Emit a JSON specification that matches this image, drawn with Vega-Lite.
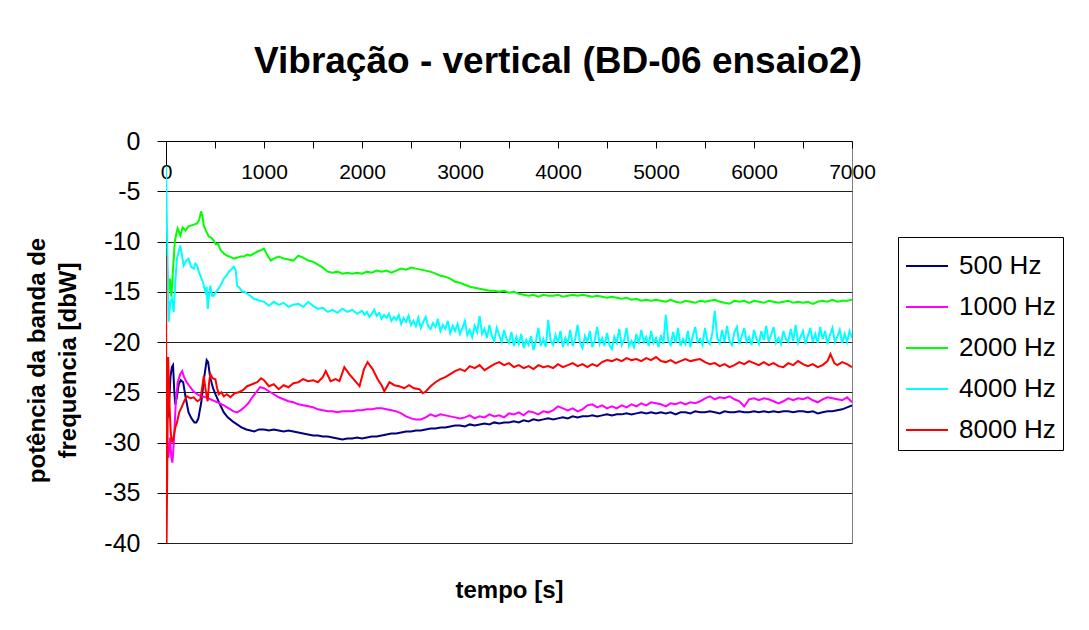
{
  "$schema": "https://vega.github.io/schema/vega-lite/v6.json",
  "width": 686,
  "height": 402,
  "autosize": {"type": "none"},
  "padding": {"left": 166, "top": 141, "right": 237, "bottom": 87},
  "background": "white",
  "title": {"text": "Vibração - vertical (BD-06 ensaio2)", "font": "Liberation Sans", "fontSize": 37, "fontWeight": "bold", "color": "black", "anchor": "middle", "frame": "group", "dx": 49, "offset": 19, "baseline": "alphabetic"},
  "config": {"view": {"stroke": "#808080", "strokeWidth": 1}},
  "datasets": {
    "s500": [{"t":0,"v":-25.5},{"t":15,"v":-27.6},{"t":30,"v":-26.5},{"t":45,"v":-23.5},{"t":60,"v":-22.5},{"t":72,"v":-22.3},{"t":85,"v":-25},{"t":95,"v":-26.2},{"t":110,"v":-25.5},{"t":130,"v":-24.2},{"t":150,"v":-23.8},{"t":175,"v":-24},{"t":200,"v":-25.5},{"t":230,"v":-27},{"t":260,"v":-27.6},{"t":290,"v":-28},{"t":310,"v":-28},{"t":330,"v":-27.6},{"t":360,"v":-26},{"t":390,"v":-23.5},{"t":415,"v":-21.8},{"t":430,"v":-22},{"t":450,"v":-23.5},{"t":480,"v":-24.6},{"t":510,"v":-25.3},{"t":550,"v":-26.2},{"t":590,"v":-27},{"t":630,"v":-27.5},{"t":680,"v":-27.9},{"t":725,"v":-28.2},{"t":770,"v":-28.5},{"t":820,"v":-28.7},{"t":862,"v":-28.8},{"t":900,"v":-28.9},{"t":950,"v":-28.7},{"t":1000,"v":-28.7},{"t":1050,"v":-28.8},{"t":1100,"v":-28.7},{"t":1150,"v":-28.8},{"t":1200,"v":-28.9},{"t":1250,"v":-28.8},{"t":1300,"v":-28.9},{"t":1350,"v":-29.0},{"t":1400,"v":-29.1},{"t":1450,"v":-29.2},{"t":1500,"v":-29.3},{"t":1550,"v":-29.3},{"t":1600,"v":-29.4},{"t":1650,"v":-29.4},{"t":1700,"v":-29.5},{"t":1750,"v":-29.6},{"t":1800,"v":-29.7},{"t":1850,"v":-29.6},{"t":1900,"v":-29.6},{"t":1950,"v":-29.5},{"t":2000,"v":-29.6},{"t":2050,"v":-29.5},{"t":2100,"v":-29.4},{"t":2150,"v":-29.4},{"t":2200,"v":-29.3},{"t":2250,"v":-29.2},{"t":2300,"v":-29.1},{"t":2350,"v":-29.1},{"t":2400,"v":-29.0},{"t":2450,"v":-28.9},{"t":2500,"v":-28.9},{"t":2550,"v":-28.8},{"t":2600,"v":-28.8},{"t":2650,"v":-28.7},{"t":2700,"v":-28.6},{"t":2750,"v":-28.6},{"t":2800,"v":-28.5},{"t":2850,"v":-28.5},{"t":2900,"v":-28.4},{"t":2950,"v":-28.3},{"t":3000,"v":-28.3},{"t":3050,"v":-28.4},{"t":3100,"v":-28.2},{"t":3150,"v":-28.3},{"t":3200,"v":-28.2},{"t":3250,"v":-28.1},{"t":3300,"v":-28.2},{"t":3350,"v":-28.0},{"t":3400,"v":-28.1},{"t":3450,"v":-28.0},{"t":3500,"v":-28.0},{"t":3550,"v":-27.9},{"t":3600,"v":-28.0},{"t":3650,"v":-27.8},{"t":3700,"v":-27.9},{"t":3750,"v":-27.7},{"t":3800,"v":-27.8},{"t":3850,"v":-27.7},{"t":3900,"v":-27.6},{"t":3950,"v":-27.7},{"t":4000,"v":-27.6},{"t":4050,"v":-27.5},{"t":4100,"v":-27.6},{"t":4150,"v":-27.4},{"t":4200,"v":-27.5},{"t":4250,"v":-27.4},{"t":4300,"v":-27.4},{"t":4350,"v":-27.3},{"t":4400,"v":-27.4},{"t":4450,"v":-27.3},{"t":4500,"v":-27.2},{"t":4550,"v":-27.3},{"t":4600,"v":-27.2},{"t":4650,"v":-27.2},{"t":4700,"v":-27.1},{"t":4750,"v":-27.2},{"t":4800,"v":-27.1},{"t":4850,"v":-27.0},{"t":4900,"v":-27.1},{"t":4950,"v":-27.0},{"t":5000,"v":-27.1},{"t":5050,"v":-27.0},{"t":5100,"v":-27.1},{"t":5150,"v":-27.0},{"t":5200,"v":-27.2},{"t":5250,"v":-27.0},{"t":5300,"v":-27.0},{"t":5350,"v":-27.1},{"t":5400,"v":-26.9},{"t":5450,"v":-27.0},{"t":5500,"v":-27.0},{"t":5550,"v":-26.9},{"t":5600,"v":-27.0},{"t":5650,"v":-27.1},{"t":5700,"v":-26.9},{"t":5750,"v":-27.0},{"t":5800,"v":-27.0},{"t":5850,"v":-26.9},{"t":5900,"v":-27.0},{"t":5950,"v":-27.0},{"t":6000,"v":-26.9},{"t":6050,"v":-27.0},{"t":6100,"v":-26.9},{"t":6150,"v":-27.0},{"t":6200,"v":-26.9},{"t":6250,"v":-27.0},{"t":6300,"v":-26.9},{"t":6350,"v":-26.9},{"t":6400,"v":-27.0},{"t":6450,"v":-26.9},{"t":6500,"v":-26.9},{"t":6550,"v":-27.0},{"t":6600,"v":-26.9},{"t":6650,"v":-27.1},{"t":6700,"v":-27.0},{"t":6750,"v":-26.9},{"t":6800,"v":-26.9},{"t":6850,"v":-26.8},{"t":6900,"v":-26.7},{"t":6950,"v":-26.5},{"t":7000,"v":-26.3}],
    "s1000": [{"t":0,"v":-27},{"t":10,"v":-30},{"t":25,"v":-31.5},{"t":40,"v":-29.5},{"t":55,"v":-31.5},{"t":65,"v":-32},{"t":80,"v":-30},{"t":100,"v":-26},{"t":120,"v":-24},{"t":145,"v":-23.2},{"t":165,"v":-22.9},{"t":185,"v":-23.5},{"t":210,"v":-24},{"t":248,"v":-24.5},{"t":280,"v":-24.9},{"t":317,"v":-25.2},{"t":360,"v":-25.4},{"t":410,"v":-25.5},{"t":453,"v":-25.7},{"t":500,"v":-25.9},{"t":550,"v":-26.1},{"t":590,"v":-26.3},{"t":640,"v":-26.6},{"t":690,"v":-26.9},{"t":726,"v":-27},{"t":760,"v":-26.8},{"t":800,"v":-26.5},{"t":840,"v":-26.1},{"t":880,"v":-25.5},{"t":920,"v":-25},{"t":960,"v":-24.5},{"t":1000,"v":-24.6},{"t":1050,"v":-24.9},{"t":1100,"v":-25.2},{"t":1150,"v":-25.5},{"t":1200,"v":-25.7},{"t":1250,"v":-25.9},{"t":1300,"v":-26.0},{"t":1350,"v":-26.2},{"t":1400,"v":-26.3},{"t":1450,"v":-26.4},{"t":1500,"v":-26.5},{"t":1550,"v":-26.7},{"t":1600,"v":-26.8},{"t":1650,"v":-26.9},{"t":1700,"v":-26.9},{"t":1750,"v":-27.0},{"t":1800,"v":-26.9},{"t":1850,"v":-26.9},{"t":1900,"v":-26.9},{"t":1950,"v":-26.8},{"t":2000,"v":-26.8},{"t":2050,"v":-26.7},{"t":2100,"v":-26.7},{"t":2150,"v":-26.6},{"t":2200,"v":-26.6},{"t":2250,"v":-26.7},{"t":2300,"v":-26.8},{"t":2350,"v":-26.9},{"t":2400,"v":-27.1},{"t":2450,"v":-27.4},{"t":2500,"v":-27.6},{"t":2550,"v":-27.7},{"t":2600,"v":-27.7},{"t":2650,"v":-27.5},{"t":2700,"v":-27.2},{"t":2750,"v":-27.4},{"t":2800,"v":-27.2},{"t":2850,"v":-27.3},{"t":2900,"v":-27.4},{"t":2950,"v":-27.5},{"t":3000,"v":-27.6},{"t":3050,"v":-27.5},{"t":3100,"v":-27.3},{"t":3150,"v":-27.6},{"t":3200,"v":-27.4},{"t":3250,"v":-27.5},{"t":3300,"v":-27.2},{"t":3350,"v":-27.4},{"t":3400,"v":-27.3},{"t":3450,"v":-27.5},{"t":3500,"v":-27.1},{"t":3550,"v":-27.2},{"t":3600,"v":-27.0},{"t":3650,"v":-27.3},{"t":3700,"v":-26.9},{"t":3750,"v":-27.0},{"t":3800,"v":-27.2},{"t":3850,"v":-26.9},{"t":3900,"v":-27.0},{"t":3950,"v":-26.8},{"t":4000,"v":-26.4},{"t":4050,"v":-26.6},{"t":4100,"v":-26.8},{"t":4150,"v":-26.6},{"t":4200,"v":-26.9},{"t":4250,"v":-26.7},{"t":4300,"v":-26.3},{"t":4350,"v":-26.2},{"t":4400,"v":-26.5},{"t":4450,"v":-26.3},{"t":4500,"v":-26.6},{"t":4550,"v":-26.4},{"t":4600,"v":-26.6},{"t":4650,"v":-26.3},{"t":4700,"v":-26.5},{"t":4750,"v":-26.2},{"t":4800,"v":-26.4},{"t":4850,"v":-26.1},{"t":4900,"v":-26.3},{"t":4950,"v":-26.0},{"t":5000,"v":-26.1},{"t":5050,"v":-26.2},{"t":5100,"v":-26.4},{"t":5150,"v":-26.1},{"t":5200,"v":-26.2},{"t":5250,"v":-26.0},{"t":5300,"v":-26.2},{"t":5350,"v":-26.0},{"t":5400,"v":-26.1},{"t":5450,"v":-25.9},{"t":5500,"v":-25.6},{"t":5550,"v":-25.4},{"t":5600,"v":-25.7},{"t":5650,"v":-25.5},{"t":5700,"v":-25.6},{"t":5750,"v":-25.4},{"t":5800,"v":-25.7},{"t":5850,"v":-25.9},{"t":5900,"v":-26.4},{"t":5950,"v":-25.7},{"t":6000,"v":-25.6},{"t":6050,"v":-25.8},{"t":6100,"v":-25.6},{"t":6150,"v":-25.7},{"t":6200,"v":-25.9},{"t":6250,"v":-26.1},{"t":6300,"v":-25.9},{"t":6350,"v":-25.6},{"t":6400,"v":-25.8},{"t":6450,"v":-25.6},{"t":6500,"v":-25.7},{"t":6550,"v":-25.5},{"t":6600,"v":-25.8},{"t":6650,"v":-26.0},{"t":6700,"v":-25.7},{"t":6750,"v":-25.5},{"t":6800,"v":-25.6},{"t":6850,"v":-25.7},{"t":6900,"v":-25.8},{"t":6950,"v":-25.5},{"t":7000,"v":-26.0}],
    "s2000": [{"t":0,"v":-12},{"t":10,"v":-12.5},{"t":25,"v":-15},{"t":40,"v":-13.7},{"t":55,"v":-15.5},{"t":70,"v":-13},{"t":90,"v":-10},{"t":110,"v":-9},{"t":119,"v":-8.7},{"t":146,"v":-9.4},{"t":170,"v":-8.6},{"t":200,"v":-8.9},{"t":230,"v":-8.5},{"t":260,"v":-8.4},{"t":290,"v":-8.3},{"t":317,"v":-8.2},{"t":340,"v":-7.8},{"t":358,"v":-7.0},{"t":372,"v":-7.5},{"t":385,"v":-8.4},{"t":410,"v":-9},{"t":436,"v":-9.5},{"t":460,"v":-9.6},{"t":487,"v":-9.9},{"t":510,"v":-10.3},{"t":530,"v":-10.2},{"t":560,"v":-10.9},{"t":590,"v":-11.2},{"t":620,"v":-11.4},{"t":650,"v":-11.5},{"t":692,"v":-11.7},{"t":730,"v":-11.6},{"t":760,"v":-11.5},{"t":794,"v":-11.5},{"t":830,"v":-11.3},{"t":860,"v":-11.4},{"t":896,"v":-11.2},{"t":930,"v":-11.0},{"t":960,"v":-10.9},{"t":1000,"v":-10.7},{"t":1030,"v":-11.3},{"t":1070,"v":-11.9},{"t":1100,"v":-11.7},{"t":1150,"v":-11.5},{"t":1200,"v":-11.7},{"t":1250,"v":-11.8},{"t":1300,"v":-11.9},{"t":1350,"v":-11.4},{"t":1400,"v":-11.6},{"t":1450,"v":-11.9},{"t":1500,"v":-12.0},{"t":1550,"v":-12.3},{"t":1600,"v":-12.6},{"t":1650,"v":-13.0},{"t":1700,"v":-13.1},{"t":1750,"v":-13.0},{"t":1800,"v":-13.2},{"t":1850,"v":-13.1},{"t":1900,"v":-13.2},{"t":1950,"v":-13.1},{"t":2000,"v":-13.2},{"t":2050,"v":-13.0},{"t":2100,"v":-13.1},{"t":2150,"v":-12.9},{"t":2200,"v":-13.0},{"t":2250,"v":-12.9},{"t":2300,"v":-13.1},{"t":2350,"v":-12.9},{"t":2400,"v":-12.7},{"t":2450,"v":-12.8},{"t":2500,"v":-12.6},{"t":2550,"v":-12.7},{"t":2600,"v":-12.8},{"t":2650,"v":-12.9},{"t":2700,"v":-13.0},{"t":2750,"v":-13.2},{"t":2800,"v":-13.4},{"t":2850,"v":-13.5},{"t":2900,"v":-13.7},{"t":2950,"v":-14.0},{"t":3000,"v":-14.1},{"t":3050,"v":-14.3},{"t":3100,"v":-14.5},{"t":3150,"v":-14.6},{"t":3200,"v":-14.7},{"t":3250,"v":-14.8},{"t":3300,"v":-14.9},{"t":3350,"v":-14.9},{"t":3400,"v":-15.0},{"t":3450,"v":-14.9},{"t":3500,"v":-15.1},{"t":3550,"v":-15.0},{"t":3600,"v":-15.2},{"t":3650,"v":-15.3},{"t":3700,"v":-15.4},{"t":3750,"v":-15.3},{"t":3800,"v":-15.5},{"t":3850,"v":-15.3},{"t":3900,"v":-15.4},{"t":3950,"v":-15.4},{"t":4000,"v":-15.3},{"t":4050,"v":-15.5},{"t":4100,"v":-15.4},{"t":4150,"v":-15.3},{"t":4200,"v":-15.4},{"t":4250,"v":-15.3},{"t":4300,"v":-15.4},{"t":4350,"v":-15.5},{"t":4400,"v":-15.4},{"t":4450,"v":-15.5},{"t":4500,"v":-15.6},{"t":4550,"v":-15.5},{"t":4600,"v":-15.6},{"t":4650,"v":-15.7},{"t":4700,"v":-15.6},{"t":4750,"v":-15.8},{"t":4800,"v":-15.7},{"t":4850,"v":-15.9},{"t":4900,"v":-15.8},{"t":4950,"v":-15.9},{"t":5000,"v":-15.8},{"t":5050,"v":-15.9},{"t":5100,"v":-16.0},{"t":5150,"v":-15.8},{"t":5200,"v":-16.0},{"t":5250,"v":-16.1},{"t":5300,"v":-15.9},{"t":5350,"v":-16.0},{"t":5400,"v":-16.1},{"t":5450,"v":-15.9},{"t":5500,"v":-16.0},{"t":5550,"v":-15.9},{"t":5600,"v":-15.8},{"t":5650,"v":-16.0},{"t":5700,"v":-16.1},{"t":5750,"v":-16.2},{"t":5800,"v":-15.9},{"t":5850,"v":-16.0},{"t":5900,"v":-15.9},{"t":5950,"v":-16.1},{"t":6000,"v":-15.9},{"t":6050,"v":-16.0},{"t":6100,"v":-16.1},{"t":6150,"v":-15.9},{"t":6200,"v":-16.0},{"t":6250,"v":-16.1},{"t":6300,"v":-16.0},{"t":6350,"v":-15.9},{"t":6400,"v":-16.1},{"t":6450,"v":-16.0},{"t":6500,"v":-16.1},{"t":6550,"v":-16.0},{"t":6600,"v":-16.2},{"t":6650,"v":-16.0},{"t":6700,"v":-15.9},{"t":6750,"v":-16.0},{"t":6800,"v":-15.8},{"t":6850,"v":-16.0},{"t":6900,"v":-15.9},{"t":6950,"v":-15.9},{"t":7000,"v":-15.8}],
    "s4000": [{"t":0,"v":-2.5},{"t":12,"v":-10},{"t":27,"v":-18.0},{"t":45,"v":-16},{"t":61,"v":-15.7},{"t":78,"v":-17.0},{"t":95,"v":-14},{"t":112,"v":-11.7},{"t":130,"v":-11},{"t":146,"v":-10.4},{"t":165,"v":-11.5},{"t":180,"v":-12.4},{"t":205,"v":-11.9},{"t":231,"v":-11.7},{"t":255,"v":-12.5},{"t":283,"v":-12.7},{"t":300,"v":-12.2},{"t":317,"v":-12.4},{"t":335,"v":-13},{"t":351,"v":-13.4},{"t":375,"v":-14},{"t":402,"v":-15.0},{"t":415,"v":-14.5},{"t":426,"v":-16.7},{"t":440,"v":-15.2},{"t":453,"v":-14.4},{"t":470,"v":-15.4},{"t":487,"v":-15.4},{"t":510,"v":-15},{"t":538,"v":-14.7},{"t":565,"v":-14.2},{"t":590,"v":-13.7},{"t":615,"v":-13.4},{"t":641,"v":-13.0},{"t":665,"v":-12.8},{"t":692,"v":-12.5},{"t":710,"v":-12.8},{"t":726,"v":-14.4},{"t":750,"v":-14.6},{"t":777,"v":-15.0},{"t":800,"v":-15.0},{"t":828,"v":-15.2},{"t":860,"v":-15.4},{"t":896,"v":-15.7},{"t":930,"v":-15.8},{"t":960,"v":-15.9},{"t":1000,"v":-16.0},{"t":1050,"v":-16.4},{"t":1100,"v":-16.0},{"t":1150,"v":-16.3},{"t":1200,"v":-16.1},{"t":1250,"v":-16.5},{"t":1300,"v":-16.3},{"t":1350,"v":-16.2},{"t":1400,"v":-16.5},{"t":1450,"v":-16.0},{"t":1500,"v":-16.4},{"t":1550,"v":-16.7},{"t":1600,"v":-16.6},{"t":1650,"v":-17.0},{"t":1700,"v":-16.8},{"t":1750,"v":-17.1},{"t":1800,"v":-16.7},{"t":1850,"v":-17.0},{"t":1900,"v":-16.8},{"t":1950,"v":-17.2},{"t":2000,"v":-16.9},{"t":2025,"v":-17.3},{"t":2050,"v":-17.0},{"t":2075,"v":-17.5},{"t":2100,"v":-17.2},{"t":2125,"v":-16.8},{"t":2150,"v":-17.4},{"t":2175,"v":-17.1},{"t":2200,"v":-17.7},{"t":2225,"v":-17.3},{"t":2250,"v":-17.6},{"t":2275,"v":-17.2},{"t":2300,"v":-17.9},{"t":2325,"v":-17.5},{"t":2350,"v":-17.8},{"t":2375,"v":-17.3},{"t":2400,"v":-18.2},{"t":2425,"v":-17.6},{"t":2450,"v":-18.0},{"t":2475,"v":-17.4},{"t":2500,"v":-18.3},{"t":2525,"v":-17.9},{"t":2550,"v":-18.4},{"t":2575,"v":-17.6},{"t":2600,"v":-18.6},{"t":2625,"v":-18.0},{"t":2650,"v":-17.5},{"t":2675,"v":-18.4},{"t":2700,"v":-18.7},{"t":2725,"v":-18.1},{"t":2750,"v":-18.5},{"t":2775,"v":-17.7},{"t":2800,"v":-18.9},{"t":2825,"v":-18.3},{"t":2850,"v":-18.7},{"t":2875,"v":-17.9},{"t":2900,"v":-19.1},{"t":2925,"v":-18.4},{"t":2950,"v":-18.9},{"t":2975,"v":-18.2},{"t":3000,"v":-19.2},{"t":3025,"v":-18.6},{"t":3050,"v":-17.9},{"t":3075,"v":-19.3},{"t":3100,"v":-18.8},{"t":3125,"v":-19.5},{"t":3150,"v":-18.4},{"t":3175,"v":-19.0},{"t":3200,"v":-17.4},{"t":3225,"v":-19.2},{"t":3250,"v":-18.7},{"t":3275,"v":-19.6},{"t":3300,"v":-18.3},{"t":3325,"v":-19.4},{"t":3350,"v":-19.9},{"t":3375,"v":-18.6},{"t":3400,"v":-19.3},{"t":3425,"v":-20.0},{"t":3450,"v":-18.8},{"t":3475,"v":-19.7},{"t":3500,"v":-20.1},{"t":3525,"v":-19.0},{"t":3550,"v":-20.4},{"t":3575,"v":-19.5},{"t":3600,"v":-20.2},{"t":3625,"v":-19.2},{"t":3650,"v":-20.6},{"t":3675,"v":-19.8},{"t":3700,"v":-20.3},{"t":3725,"v":-19.4},{"t":3750,"v":-20.8},{"t":3775,"v":-19.9},{"t":3800,"v":-18.6},{"t":3825,"v":-20.4},{"t":3850,"v":-19.7},{"t":3875,"v":-20.5},{"t":3900,"v":-17.8},{"t":3925,"v":-19.9},{"t":3950,"v":-20.3},{"t":3975,"v":-19.3},{"t":4000,"v":-20.1},{"t":4025,"v":-18.9},{"t":4050,"v":-20.5},{"t":4075,"v":-19.6},{"t":4100,"v":-20.2},{"t":4125,"v":-18.8},{"t":4150,"v":-20.4},{"t":4175,"v":-19.7},{"t":4200,"v":-18.3},{"t":4225,"v":-20.1},{"t":4250,"v":-20.6},{"t":4275,"v":-19.4},{"t":4300,"v":-20.0},{"t":4325,"v":-18.9},{"t":4350,"v":-20.5},{"t":4375,"v":-19.8},{"t":4400,"v":-18.5},{"t":4425,"v":-20.2},{"t":4450,"v":-19.6},{"t":4475,"v":-20.4},{"t":4500,"v":-19.1},{"t":4525,"v":-20.3},{"t":4550,"v":-20.7},{"t":4575,"v":-19.5},{"t":4600,"v":-20.1},{"t":4625,"v":-18.7},{"t":4650,"v":-20.3},{"t":4675,"v":-19.8},{"t":4700,"v":-18.6},{"t":4725,"v":-20.4},{"t":4750,"v":-19.9},{"t":4775,"v":-20.5},{"t":4800,"v":-19.2},{"t":4825,"v":-20.2},{"t":4850,"v":-18.8},{"t":4875,"v":-20.0},{"t":4900,"v":-19.5},{"t":4925,"v":-20.4},{"t":4950,"v":-18.9},{"t":4975,"v":-20.1},{"t":5000,"v":-19.6},{"t":5025,"v":-20.5},{"t":5050,"v":-19.3},{"t":5075,"v":-20.2},{"t":5100,"v":-17.3},{"t":5125,"v":-19.9},{"t":5150,"v":-20.3},{"t":5175,"v":-19.0},{"t":5200,"v":-20.1},{"t":5225,"v":-18.6},{"t":5250,"v":-20.4},{"t":5275,"v":-19.7},{"t":5300,"v":-20.2},{"t":5325,"v":-18.9},{"t":5350,"v":-20.5},{"t":5375,"v":-19.4},{"t":5400,"v":-18.5},{"t":5425,"v":-20.0},{"t":5450,"v":-19.7},{"t":5475,"v":-20.3},{"t":5500,"v":-18.6},{"t":5525,"v":-19.9},{"t":5550,"v":-20.2},{"t":5575,"v":-19.1},{"t":5600,"v":-16.9},{"t":5625,"v":-19.6},{"t":5650,"v":-20.1},{"t":5675,"v":-18.8},{"t":5700,"v":-20.0},{"t":5725,"v":-18.4},{"t":5750,"v":-19.9},{"t":5775,"v":-20.3},{"t":5800,"v":-19.0},{"t":5825,"v":-18.5},{"t":5850,"v":-20.2},{"t":5875,"v":-19.4},{"t":5900,"v":-18.6},{"t":5925,"v":-20.0},{"t":5950,"v":-19.5},{"t":5975,"v":-20.3},{"t":6000,"v":-18.8},{"t":6025,"v":-19.7},{"t":6050,"v":-20.2},{"t":6075,"v":-18.9},{"t":6100,"v":-19.8},{"t":6125,"v":-18.4},{"t":6150,"v":-20.0},{"t":6175,"v":-19.3},{"t":6200,"v":-18.5},{"t":6225,"v":-20.1},{"t":6250,"v":-19.6},{"t":6275,"v":-20.2},{"t":6300,"v":-18.9},{"t":6325,"v":-19.7},{"t":6350,"v":-20.0},{"t":6375,"v":-18.7},{"t":6400,"v":-19.9},{"t":6425,"v":-18.3},{"t":6450,"v":-20.1},{"t":6475,"v":-19.5},{"t":6500,"v":-18.9},{"t":6525,"v":-20.2},{"t":6550,"v":-19.4},{"t":6575,"v":-18.6},{"t":6600,"v":-20.0},{"t":6625,"v":-19.2},{"t":6650,"v":-20.1},{"t":6675,"v":-18.5},{"t":6700,"v":-19.7},{"t":6725,"v":-18.9},{"t":6750,"v":-20.2},{"t":6775,"v":-19.3},{"t":6800,"v":-18.6},{"t":6825,"v":-20.0},{"t":6850,"v":-19.5},{"t":6875,"v":-18.8},{"t":6900,"v":-20.1},{"t":6925,"v":-19.2},{"t":6950,"v":-20.0},{"t":6975,"v":-18.9},{"t":7000,"v":-19.6}],
    "s8000": [{"t":0,"v":-11.5},{"t":6,"v":-40},{"t":15,"v":-30},{"t":22,"v":-21.5},{"t":35,"v":-26},{"t":48,"v":-29},{"t":60,"v":-30},{"t":75,"v":-29.6},{"t":95,"v":-28.5},{"t":112,"v":-28},{"t":135,"v":-27},{"t":163,"v":-26.4},{"t":190,"v":-25.8},{"t":215,"v":-25.4},{"t":250,"v":-25.6},{"t":283,"v":-25.5},{"t":320,"v":-25.9},{"t":351,"v":-25.7},{"t":370,"v":-24.5},{"t":385,"v":-23.4},{"t":405,"v":-24.8},{"t":425,"v":-25.9},{"t":440,"v":-24},{"t":453,"v":-23.2},{"t":475,"v":-23.6},{"t":504,"v":-23.7},{"t":520,"v":-24.5},{"t":538,"v":-25.2},{"t":565,"v":-25.0},{"t":590,"v":-25.4},{"t":620,"v":-25.2},{"t":658,"v":-25.5},{"t":700,"v":-25.1},{"t":743,"v":-25.0},{"t":785,"v":-24.8},{"t":828,"v":-24.4},{"t":880,"v":-24.2},{"t":930,"v":-24.0},{"t":970,"v":-23.6},{"t":1000,"v":-23.8},{"t":1050,"v":-24.4},{"t":1100,"v":-24.2},{"t":1150,"v":-24.7},{"t":1200,"v":-24.3},{"t":1250,"v":-24.5},{"t":1300,"v":-24.1},{"t":1350,"v":-24.0},{"t":1400,"v":-23.7},{"t":1450,"v":-23.9},{"t":1500,"v":-23.8},{"t":1550,"v":-24.0},{"t":1600,"v":-23.5},{"t":1630,"v":-22.9},{"t":1680,"v":-23.9},{"t":1730,"v":-23.7},{"t":1770,"v":-23.9},{"t":1820,"v":-22.5},{"t":1870,"v":-23.2},{"t":1940,"v":-24.0},{"t":1975,"v":-24.4},{"t":2020,"v":-22.7},{"t":2057,"v":-22.0},{"t":2108,"v":-22.7},{"t":2160,"v":-23.7},{"t":2200,"v":-24.3},{"t":2228,"v":-24.9},{"t":2280,"v":-24.0},{"t":2330,"v":-24.3},{"t":2380,"v":-24.4},{"t":2430,"v":-24.6},{"t":2480,"v":-24.3},{"t":2530,"v":-24.6},{"t":2586,"v":-24.7},{"t":2620,"v":-25.1},{"t":2654,"v":-24.9},{"t":2700,"v":-24.4},{"t":2750,"v":-24.0},{"t":2800,"v":-23.7},{"t":2850,"v":-23.5},{"t":2900,"v":-23.2},{"t":2950,"v":-22.9},{"t":3000,"v":-22.7},{"t":3050,"v":-22.9},{"t":3100,"v":-22.4},{"t":3150,"v":-22.6},{"t":3200,"v":-22.3},{"t":3250,"v":-22.8},{"t":3300,"v":-22.5},{"t":3350,"v":-22.2},{"t":3400,"v":-22.0},{"t":3450,"v":-22.3},{"t":3500,"v":-22.1},{"t":3550,"v":-22.5},{"t":3600,"v":-22.3},{"t":3650,"v":-22.6},{"t":3700,"v":-22.4},{"t":3750,"v":-22.7},{"t":3800,"v":-22.3},{"t":3850,"v":-22.5},{"t":3900,"v":-22.4},{"t":3950,"v":-22.6},{"t":4000,"v":-22.2},{"t":4050,"v":-22.5},{"t":4100,"v":-22.3},{"t":4150,"v":-22.1},{"t":4200,"v":-22.4},{"t":4250,"v":-22.2},{"t":4300,"v":-22.5},{"t":4350,"v":-22.2},{"t":4400,"v":-22.4},{"t":4450,"v":-22.0},{"t":4500,"v":-21.8},{"t":4550,"v":-21.9},{"t":4600,"v":-21.7},{"t":4650,"v":-21.9},{"t":4700,"v":-21.6},{"t":4750,"v":-21.8},{"t":4800,"v":-21.7},{"t":4850,"v":-21.9},{"t":4900,"v":-21.6},{"t":4950,"v":-21.8},{"t":5000,"v":-21.5},{"t":5050,"v":-21.9},{"t":5100,"v":-22.0},{"t":5150,"v":-21.8},{"t":5200,"v":-22.1},{"t":5250,"v":-21.9},{"t":5300,"v":-21.7},{"t":5350,"v":-21.9},{"t":5400,"v":-21.8},{"t":5450,"v":-21.7},{"t":5500,"v":-22.0},{"t":5550,"v":-22.2},{"t":5600,"v":-22.1},{"t":5650,"v":-22.4},{"t":5700,"v":-22.2},{"t":5750,"v":-22.5},{"t":5800,"v":-22.3},{"t":5850,"v":-22.0},{"t":5900,"v":-22.2},{"t":5950,"v":-21.9},{"t":6000,"v":-22.1},{"t":6050,"v":-22.3},{"t":6100,"v":-22.0},{"t":6150,"v":-22.3},{"t":6200,"v":-22.1},{"t":6250,"v":-22.4},{"t":6300,"v":-22.5},{"t":6350,"v":-22.1},{"t":6400,"v":-22.3},{"t":6450,"v":-21.9},{"t":6500,"v":-22.2},{"t":6550,"v":-22.4},{"t":6600,"v":-22.2},{"t":6650,"v":-22.5},{"t":6700,"v":-22.3},{"t":6750,"v":-21.9},{"t":6780,"v":-21.2},{"t":6820,"v":-22.1},{"t":6850,"v":-22.3},{"t":6900,"v":-22.0},{"t":6950,"v":-22.2},{"t":7000,"v":-22.5}]
  },
  "encoding": {
    "x": {"field": "t", "type": "quantitative", "scale": {"domain": [0, 7000], "nice": false, "zero": false},
      "axis": {"orient": "top", "values": [0,500,1000,1500,2000,2500,3000,3500,4000,4500,5000,5500,6000,6500,7000],
        "labelExpr": "datum.value % 1000 === 0 ? '' + datum.value : ''",
        "title": "tempo [s]", "titleFont": "Liberation Sans", "titleFontSize": 24, "titleFontWeight": "bold", "titleColor": "black",
        "titleX": 343, "titleY": 449, "titleAlign": "center", "titleBaseline": "middle", "titleAngle": 0,
        "grid": false, "domainColor": "black", "domainWidth": 1, "tickColor": "black", "tickSize": -7, "tickWidth": 1,
        "labelPadding": -30, "labelBaseline": "alphabetic", "labelFont": "Liberation Sans", "labelFontSize": 21, "labelColor": "black",
        "labelFlush": false, "labelOverlap": false, "labelBound": false}},
    "y": {"field": "v", "type": "quantitative", "scale": {"domain": [-40, 0], "nice": false, "zero": false},
      "axis": {"values": [0,-5,-10,-15,-20,-25,-30,-35,-40], "labelExpr": "'' + datum.value",
        "title": ["potência da banda de", "frequencia [dbW]"], "titleFont": "Liberation Sans", "titleFontSize": 24, "titleFontWeight": "bold", "titleColor": "black",
        "titleAngle": -90, "titleX": -129, "titleY": 219, "titleAlign": "center", "titleBaseline": "middle", "titleLineHeight": 31,
        "grid": true, "gridColor": "#222222", "gridWidth": 1, "domainColor": "black", "domainWidth": 1, "tickColor": "black", "tickSize": 9,
        "labelPadding": 17, "labelFont": "Liberation Sans", "labelFontSize": 25, "labelColor": "black", "labelFlush": false, "labelOverlap": false, "labelBound": false}}
  },
  "layer": [
    {"data": {"name": "s500"}, "mark": {"type": "line", "strokeWidth": 2, "clip": true},
     "encoding": {"color": {"datum": "500 Hz", "type": "nominal",
       "scale": {"domain": ["500 Hz", "1000 Hz", "2000 Hz", "4000 Hz", "8000 Hz"], "range": ["#000080", "#FF00FF", "#00FF00", "#00FFFF", "#FF0000"]},
       "legend": {"orient": "none", "legendX": 732, "legendY": 96, "title": null, "strokeColor": "black", "fillColor": "white", "padding": 7,
         "symbolType": "stroke", "symbolSize": 1764, "symbolStrokeWidth": 2, "labelFont": "Liberation Sans", "labelFontSize": 26, "labelColor": "black",
         "labelOffset": 10, "rowPadding": 6, "labelLimit": 300}}}},
    {"data": {"name": "s1000"}, "mark": {"type": "line", "strokeWidth": 2, "clip": true}, "encoding": {"color": {"datum": "1000 Hz", "type": "nominal"}}},
    {"data": {"name": "s2000"}, "mark": {"type": "line", "strokeWidth": 2, "clip": true}, "encoding": {"color": {"datum": "2000 Hz", "type": "nominal"}}},
    {"data": {"name": "s4000"}, "mark": {"type": "line", "strokeWidth": 2, "clip": true}, "encoding": {"color": {"datum": "4000 Hz", "type": "nominal"}}},
    {"data": {"name": "s8000"}, "mark": {"type": "line", "strokeWidth": 2, "clip": true}, "encoding": {"color": {"datum": "8000 Hz", "type": "nominal"}}}
  ]
}
